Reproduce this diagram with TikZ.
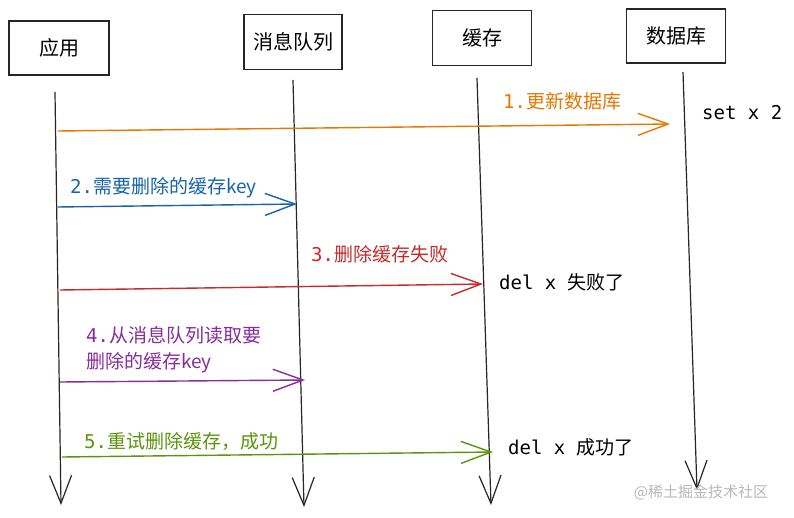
\documentclass[tikz,border=0pt]{standalone}
\usepackage{fontspec}
\setmainfont{Noto Sans CJK SC}
\setmonofont{DejaVu Sans Mono}
\usetikzlibrary{arrows.meta}
\definecolor{cOrange}{HTML}{E67700}
\definecolor{cBlue}{HTML}{1864AB}
\definecolor{cRed}{HTML}{C92A2A}
\definecolor{cPurple}{HTML}{862E9C}
\definecolor{cGreen}{HTML}{5C940D}
\definecolor{cMark}{HTML}{B8B8B8}
\newcommand{\stepno}[1]{{\ttfamily #1.}}
\tikzset{
  actor/.style={draw=black!85, line width=1.2pt, minimum height=54pt, font=\fontsize{20}{24}\selectfont},
  life/.style={draw=black!85, line width=1.2pt, -{Straight Barb[length=28pt,width=22pt,line width=1.2pt]}},
  msg/.style={line width=1.4pt, -{Straight Barb[length=30pt,width=22pt,line width=1.4pt]}},
  lbl/.style={font=\fontsize{19}{26}\selectfont, inner sep=0pt, anchor=west},
  note/.style={font=\fontsize{19}{22}\selectfont, inner sep=0pt, anchor=west}
}
\begin{document}
\begin{tikzpicture}[x=1pt,y=-1pt]
\useasboundingbox[fill=white] (0,0) rectangle (794,518);
% actors
\node[actor, minimum width=100pt] (app) at (59,48) {应用};
\node[actor, minimum width=98pt, minimum height=55pt] (mq) at (293,42) {消息队列};
\node[actor, minimum width=99pt, minimum height=55pt] (cache) at (482,38) {缓存};
\node[actor, minimum width=99pt] (db) at (676,36) {数据库};
% lifelines
\coordinate (appT) at (55,92);   \coordinate (appB) at (61,505);
\coordinate (mqT) at (293,80);   \coordinate (mqB) at (304,507);
\coordinate (cacheT) at (477,78); \coordinate (cacheB) at (491,505);
\coordinate (dbT) at (683,72);   \coordinate (dbB) at (697,490);
\draw[life] (appT) -- (appB);
\draw[life] (mqT) -- (mqB);
\draw[life] (cacheT) -- (cacheB);
\draw[life] (dbT) -- (dbB);
% messages
\coordinate (m1s) at (58,131); \coordinate (m1e) at (670,124);
\draw[msg, cOrange] (m1s) -- (m1e);
\node[lbl, text=cOrange] (l1) at (503,101) {\stepno{1}更新数据库};
\node[note] (n1) at (702,113) {\ttfamily set x 2};
\coordinate (m2s) at (58,207); \coordinate (m2e) at (297,204);
\draw[msg, cBlue] (m2s) -- (m2e);
\node[lbl, text=cBlue] (l2) at (70,188) {\stepno{2}需要删除的缓存key};
\coordinate (m3s) at (60,290); \coordinate (m3e) at (483,284);
\draw[msg, cRed] (m3s) -- (m3e);
\node[lbl, text=cRed] (l3) at (311,254) {\stepno{3}删除缓存失败};
\node[note] (n3) at (499,282) {{\ttfamily del x }失败了};
\coordinate (m4s) at (60,382); \coordinate (m4e) at (305,380);
\draw[msg, cPurple] (m4s) -- (m4e);
\node[lbl, text=cPurple, align=left] (l4) at (86,350) {\stepno{4}从消息队列读取要\\删除的缓存key};
\coordinate (m5s) at (62,457); \coordinate (m5e) at (493,452);
\draw[msg, cGreen] (m5s) -- (m5e);
\node[lbl, text=cGreen] (l5) at (84,441) {\stepno{5}重试删除缓存，成功};
\node[note] (n5) at (508,447) {{\ttfamily del x }成功了};
% watermark
\node[font=\fontsize{15}{18}\selectfont, text=cMark, inner sep=0pt] (wm) at (701,492) {@稀土掘金技术社区};
\end{tikzpicture}
\end{document}
